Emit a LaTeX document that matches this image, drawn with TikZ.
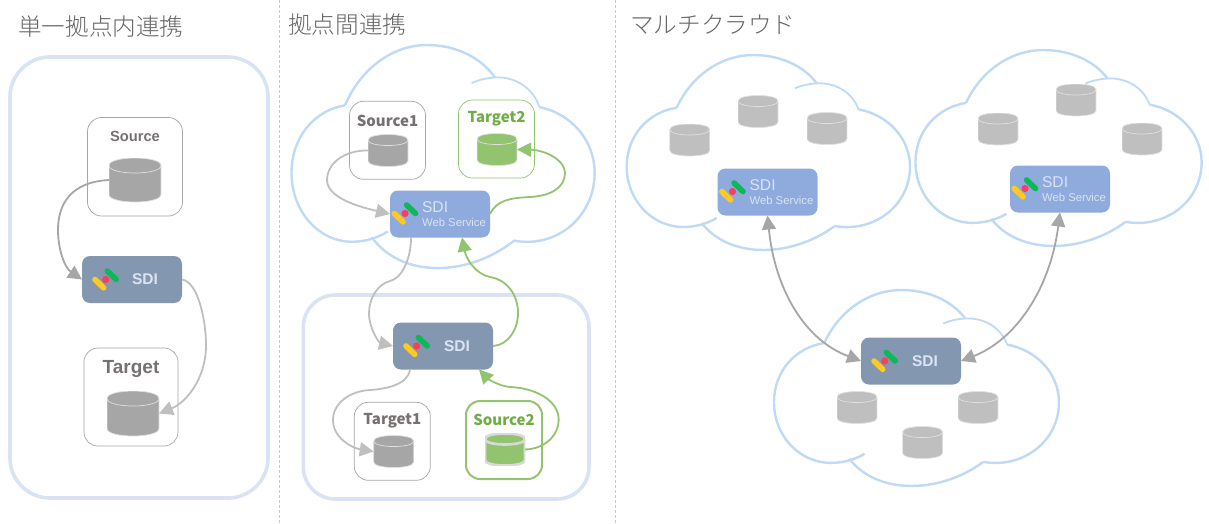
\documentclass[tikz,border=0pt]{standalone}
\usepackage{fontspec}
\setmainfont{Liberation Sans}
\newfontfamily\jpfont{Noto Sans CJK JP}
\newfontfamily\jplight{Noto Sans CJK JP Light}
\usetikzlibrary{positioning,arrows.meta}
\definecolor{panelblue}{HTML}{DAE3F3}
\definecolor{cloudblue}{HTML}{BFDAF6}
\definecolor{sdigray}{HTML}{8497B0}
\definecolor{sdiblue}{HTML}{8FAADC}
\definecolor{leafgreen}{HTML}{92C46F}
\definecolor{leaftext}{HTML}{70AD47}
\definecolor{tagtext}{HTML}{767171}
\definecolor{logoyellow}{HTML}{FFC91F}
\definecolor{logored}{HTML}{F5405F}
\definecolor{logogreen}{HTML}{0DB85A}
\tikzset{
	pics/cloudy/.style={code={
		\fill[white] (50,52.7) .. controls (65,20) and (95,0) .. (126.7,0) .. controls (155,0) and (178,12) .. (190,28.3) -- (231.7,54.3) .. controls (262,60) and (283.3,84) .. (283.3,111.7) .. controls (283.3,150) and (248,178) .. (208,171) .. controls (188,186) and (162,195) .. (136.7,195) .. controls (110,195) and (88,185) .. (75,168) .. controls (68,171) and (62,172) .. (56.7,172) .. controls (25,172) and (0,145) .. (0,111.7) .. controls (0,80) and (22,57) .. (50,52.7);
		\draw[cloudblue,line width=2.4pt] (50,52.7) .. controls (65,20) and (95,0) .. (126.7,0) .. controls (155,0) and (178,12) .. (190,28.3);
		\draw[cloudblue,line width=1.8pt] (168.3,33.3) .. controls (176,30) and (185,28.3) .. (193,28.3) .. controls (210,28.3) and (226,38) .. (231.7,54.3);
		\draw[cloudblue,line width=2.4pt] (231.7,54.3) .. controls (262,60) and (283.3,84) .. (283.3,111.7) .. controls (283.3,150) and (248,178) .. (208,171);
		\draw[cloudblue,line width=2.4pt] (208,171) .. controls (188,186) and (162,195) .. (136.7,195) .. controls (110,195) and (88,185) .. (75,168);
		\draw[cloudblue,line width=2.4pt] (90,163) .. controls (80,169) and (68,172) .. (56.7,172) .. controls (25,172) and (0,145) .. (0,111.7) .. controls (0,80) and (22,57) .. (50,52.7);
	}},
	pics/sdilogo/.style={code={
		\draw[line width=5.6pt,line cap=round,color=logoyellow] (0,0) -- (8.7,8.4);
		\fill[logored] (10.7,0) circle (3.6pt);
		\draw[line width=5.6pt,line cap=round,color=logogreen] (12.3,-8.5) -- (21.2,0);
	}},
	canr/.store in=\canr, canr=5.5pt,
	canedge/.store in=\canedge, canedge=black!12,
	canline/.store in=\canline, canline=0.7pt,
	canfill/.store in=\canfill, canfill=black!35
}
\begin{document}
\begin{tikzpicture}[x=1pt,y=-1pt,
		heading/.style={font=\jplight\fontsize{23.6}{26}\selectfont,text=black!60,anchor=west,inner sep=0pt},
		panel/.style={draw=panelblue,line width=3.6pt,rounded corners=#1,fill=white},
		store/.style={draw=black!35,line width=0.7pt,rounded corners=14pt,minimum width=76pt,minimum height=78pt,outer sep=0pt,inner sep=0pt},
		tag/.style={font=\jpfont\bfseries\fontsize{15}{17}\selectfont,text=tagtext,anchor=center,label distance=0pt},
		can/.style={canfill=#1,rectangle,minimum width=40pt,minimum height=32pt,inner sep=0pt,outer sep=0pt,path picture={
			\coordinate (nw) at (path picture bounding box.north west);
			\coordinate (ne) at (path picture bounding box.north east);
			\coordinate (sw) at (path picture bounding box.south west);
			\coordinate (se) at (path picture bounding box.south east);
			\draw[fill=\canfill,draw=\canedge,line width=\canline] ([yshift=-\canr]nw) .. controls ([yshift=0.333*\canr]nw) and ([yshift=0.333*\canr]ne) .. ([yshift=-\canr]ne) -- ([yshift=\canr]se) .. controls ([yshift=-0.333*\canr]se) and ([yshift=-0.333*\canr]sw) .. ([yshift=\canr]sw) -- cycle;
			\draw[draw=\canedge,line width=\canline] ([yshift=-\canr]nw) .. controls ([yshift=-2.333*\canr]nw) and ([yshift=-2.333*\canr]ne) .. ([yshift=-\canr]ne);
		}},
		sdi/.style={rounded corners=8pt,fill=sdigray,minimum width=100pt,minimum height=47pt,outer sep=0pt,inner sep=0pt},
		web/.style={sdi,fill=sdiblue},
		sditext/.style={text=panelblue,font=\bfseries\fontsize{15.5}{17}\selectfont,anchor=center},
		webtext/.style={text=panelblue,align=left,anchor=center,font=\fontsize{15.6}{15}\selectfont},
		flow/.style={line width=1.8pt,color=#1,-{Triangle[length=14pt,width=14pt]}},
		both/.style={line width=1.8pt,color=black!35,{Triangle[length=14pt,width=14pt]}-{Triangle[length=14pt,width=14pt]}}]
	\useasboundingbox (0,0) rectangle (1209,523);
	\foreach \sepx in {279,615}
		\draw[black!22,densely dashed,line width=0.6pt] (\sepx,0) -- (\sepx,523);

	\node[heading] (t1) at (18,27) {単一拠点内連携};
	\node[heading] (t2) at (288,25) {拠点間連携};
	\node[heading] (t3) at (630,25) {マルチクラウド};

	% first panel
	\draw[panel=40pt] (10,57) rectangle (268,498);
	\node[store,minimum width=95pt,minimum height=98.5pt,label={[tag,font=\bfseries\fontsize{14.7}{16}\selectfont,yshift=-18.5pt]north:Source}] (bs) at (135,166.75) {};
	\node[can=black!35,canr=7.5pt,minimum width=52pt,minimum height=44pt] (cs) at (135,180) {};
	\node[sdi,below=40pt of bs,xshift=-3pt,label={[sditext,xshift=13pt]center:SDI}] (s1) {};
	\pic at ([xshift=-37pt]s1.center) {sdilogo};
	\node[store,minimum width=94pt,minimum height=98pt,below=45pt of s1,xshift=-1pt,label={[tag,font=\bfseries\fontsize{19}{21}\selectfont,yshift=-21pt]north:Target}] (bt) {};
	\node[can=black!35,canr=7.5pt,minimum width=52pt,minimum height=45pt] (ct) at (133,413.5) {};
	\draw[flow=black!35] (cs.west) .. controls (70,182) and (58,205) .. (58,230) .. controls (58,250) and (65,268) .. (s1.west);
	\draw[flow=black!25] (s1.east) .. controls (198,282) and (206,320) .. (206,345) .. controls (206,380) and (185,403) .. (ct.east);

	% second panel
	\pic[xscale=1.07,yscale=1.144] at (291.5,45) {cloudy};
	\draw[panel=32pt] (303.3,295) rectangle (589,499);
	\node[store,label={[tag,yshift=-20pt]north:Source1}] (b1) at (387.5,140.3) {};
	\node[can=black!35] (c1) at (388,150.5) {};
	\node[store,draw=leafgreen,label={[tag,text=leaftext,yshift=-19pt]north:Target2}] (b2) at (496.5,139) {};
	\node[can=leafgreen] (c2) at (497,149.5) {};
	\node[web,label={[webtext,xshift=14pt]center:{SDI\\[-1pt]{\fontsize{11.3}{13}\selectfont Web Service}}}] (w1) at (440,214) {};
	\pic at ([xshift=-45.7pt,yshift=0.5pt]w1.center) {sdilogo};
	\node[sdi,label={[sditext,xshift=14pt]center:SDI}] (s2) at (443,346) {};
	\pic at ([xshift=-37pt]s2.center) {sdilogo};
	\node[store,label={[tag,yshift=-18pt]north:Target1}] (b3) at (392.3,441.3) {};
	\node[can=black!35] (c3) at (393.7,451.5) {};
	\node[store,draw=leafgreen,line width=2pt,label={[tag,text=leaftext,yshift=-19pt]north:Source2}] (b4) at (504,440) {};
	\node[can=leafgreen,canline=2.6pt,canedge=black!15] (c4) at (505,449.5) {};
	\draw[flow=black!25] (c1.west) .. controls (345,150) and (327,163) .. (327,180) .. controls (327,198) and (360,207) .. (w1.west);
	\draw[flow=leafgreen] (w1.east) .. controls (497,200) and (510,198) .. (530,197) .. controls (550,196) and (565,188) .. (565,173) .. controls (565,160) and (545,150) .. (c2.east);
	\draw[flow=black!25] ([xshift=-29pt]w1.south) .. controls (411,262) and (400,279) .. (390,281) .. controls (378,284) and (369,298) .. (369,313) .. controls (369,330) and (380,343) .. (s2.west);
	\draw[flow=leafgreen] (s2.east) .. controls (508,345) and (518,330) .. (518,313) .. controls (518,293) and (505,279) .. (490,277) .. controls (475,274) and (466,258) .. ([xshift=22pt]w1.south);
	\draw[flow=black!25] ([xshift=-33pt]s2.south) .. controls (408,385) and (385,389) .. (370,390) .. controls (350,391) and (333,403) .. (333,420) .. controls (333,438) and (352,448) .. (c3.west);
	\draw[flow=leafgreen] (c4.east) .. controls (545,449) and (558.7,435) .. (558.7,420) .. controls (558.7,400) and (535,388) .. (510,387) .. controls (498,386) and (487,378) .. ([xshift=36pt]s2.south);

	% third panel
	\pic at (626.7,55) {cloudy};
	\pic[xscale=1.01,yscale=1.005] at (915.5,50) {cloudy};
	\pic[xscale=1.006,yscale=1.005] at (774,290) {cloudy};
	\node[can=black!25] (a1) at (689.7,140) {};
	\node[can=black!25] (a2) at (758,111.5) {};
	\node[can=black!25] (a3) at (827,128.5) {};
	\node[can=black!25] (d1) at (998,129) {};
	\node[can=black!25] (d2) at (1076,100) {};
	\node[can=black!25] (d3) at (1142,139) {};
	\node[can=black!25] (e1) at (857,407.5) {};
	\node[can=black!25] (e2) at (978,407.5) {};
	\node[can=black!25] (e3) at (922.5,442.5) {};
	\node[web,label={[webtext,xshift=14pt]center:{SDI\\[-1pt]{\fontsize{11.3}{13}\selectfont Web Service}}}] (wa) at (767.5,192) {};
	\pic at ([xshift=-45.7pt,yshift=0.5pt]wa.center) {sdilogo};
	\node[web,label={[webtext,xshift=14pt]center:{SDI\\[-1pt]{\fontsize{11.3}{13}\selectfont Web Service}}}] (wb) at (1060,189) {};
	\pic at ([xshift=-45.7pt,yshift=0.5pt]wb.center) {sdilogo};
	\node[sdi,label={[sditext,xshift=14pt]center:SDI}] (sc) at (911,361) {};
	\pic at ([xshift=-37pt]sc.center) {sdilogo};
	\draw[both] (wa.south) .. controls (775,290) and (805,340) .. (sc.west);
	\draw[both] (wb.south) .. controls (1050,290) and (1015,340) .. (sc.east);
\end{tikzpicture}
\end{document}
